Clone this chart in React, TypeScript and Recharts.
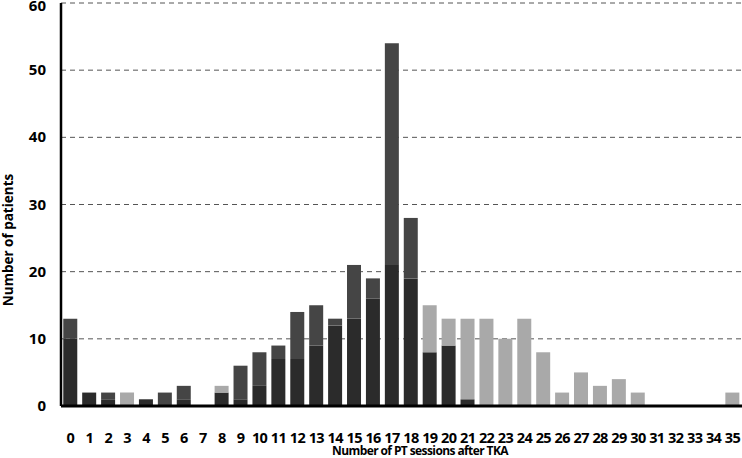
import { BarChart, Bar, XAxis, YAxis, CartesianGrid } from "recharts";

const sessions = Array.from({ length: 36 }, (_, i) => String(i));

// bottom (darkest) segment
const groupA = [10, 2, 1, 0, 1, 0, 1, 0, 2, 1, 3, 7, 7, 9, 12, 13, 16, 21, 19, 8, 9, 1, 0, 0, 0, 0, 0, 0, 0, 0, 0, 0, 0, 0, 0, 0];
// middle (dark grey) segment
const groupB = [3, 0, 1, 0, 0, 2, 2, 0, 0, 5, 5, 2, 7, 6, 1, 8, 3, 33, 9, 0, 0, 0, 0, 0, 0, 0, 0, 0, 0, 0, 0, 0, 0, 0, 0, 0];
// top (light grey) segment
const groupC = [0, 0, 0, 2, 0, 0, 0, 0, 1, 0, 0, 0, 0, 0, 0, 0, 0, 0, 0, 7, 4, 12, 13, 10, 13, 8, 2, 5, 3, 4, 2, 0, 0, 0, 0, 2];

const yTicks = [0, 10, 20, 30, 40, 50, 60];

const data = sessions.map((s, i) => ({ s, a: groupA[i], b: groupB[i], c: groupC[i] }));

const FONT = "'Open Sans', sans-serif";

const XTick = (props: any) => {
  const { x, payload } = props;
  return (
    <text x={x} y={443} textAnchor="middle" fontFamily={FONT} fontWeight={700} fontSize={14.5} letterSpacing={-0.6} fill="#000">
      {payload.value}
    </text>
  );
};

const YTick = (props: any) => {
  const { y, payload } = props;
  return (
    <text x={46} y={Math.max(y + 5, 11)} textAnchor="end" fontFamily={FONT} fontWeight={700} fontSize={15} fill="#000">
      {payload.value}
    </text>
  );
};

export default function App() {
  return (
    <div style={{ position: "absolute", left: 0, top: 0, width: 742, height: 458, background: "#fff" }}>
      <BarChart
        width={742}
        height={458}
        data={data}
        margin={{ top: 3, right: 0, bottom: 0, left: 0 }}
        barCategoryGap="12%"
      >
        <CartesianGrid vertical={false} stroke="#555" strokeDasharray="5 4" />
        <XAxis
          dataKey="s"
          height={52}
          tickLine={false}
          interval={0}
          axisLine={{ stroke: "#000", strokeWidth: 3 }}
          tick={<XTick />}
        />
        <YAxis
          width={61}
          domain={[0, 60]}
          ticks={yTicks}
          tickLine={false}
          interval={0}
          axisLine={{ stroke: "#000", strokeWidth: 2.5 }}
          tick={<YTick />}
        />
        <Bar dataKey="a" stackId="x" fill="#2b2b2b" isAnimationActive={false} />
        <Bar dataKey="b" stackId="x" fill="#454545" isAnimationActive={false} />
        <Bar dataKey="c" stackId="x" fill="#a9a9a9" isAnimationActive={false} />
        <text x={420} y={455} textAnchor="middle" fontFamily={FONT} fontWeight={700} fontSize={12} letterSpacing={-0.6} fill="#000">
          Number of PT sessions after TKA
        </text>
        <text
          x={13}
          y={240}
          transform="rotate(-90 13 240)"
          textAnchor="middle"
          fontFamily={FONT}
          fontWeight={700}
          fontSize={13.5}
          fill="#000"
        >
          Number of patients
        </text>
      </BarChart>
    </div>
  );
}
